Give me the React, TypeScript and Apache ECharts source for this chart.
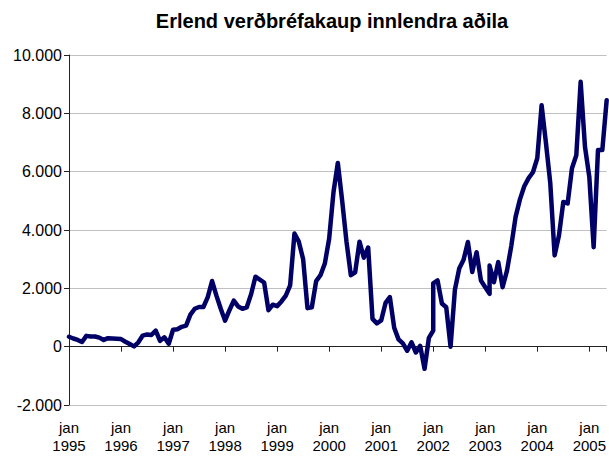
import React, { useEffect, useRef } from 'react';
import * as echarts from 'echarts';

const chartTitle = 'Erlend verðbréfakaup innlendra aðila';
const firstYear = 1995;

// Monthly values, January to December of each year
const y1995 = [340, 280, 230, 160, 370, 350, 350, 310, 230, 290, 280, 270];
const y1996 = [260, 170, 90, 10, 150, 380, 420, 400, 550, 200, 320, 100];
const y1997 = [580, 600, 680, 720, 1100, 1300, 1360, 1360, 1700, 2250, 1750, 1300];
const y1998 = [890, 1250, 1580, 1380, 1300, 1350, 1800, 2400, 2300, 2200, 1250, 1440];
const y1999 = [1390, 1550, 1750, 2100, 3880, 3600, 3000, 1320, 1350, 2250, 2450, 2850];
const y2000 = [3700, 5300, 6300, 5000, 3600, 2450, 2550, 3600, 3050, 3400, 950, 800];
const y2001 = [900, 1500, 1700, 650, 250, 110, -140, 150, -200, 30, -760, 300];
const y2002 = [550, 2270, 1480, 1350, 0, 1950, 2680, 2980, 3590, 2560, 3240, 2270];
const y2003 = [2040, 1810, 2210, 2900, 2040, 2600, 3450, 4450, 5050, 5500, 5780, 5980];
const y2004 = [6460, 8280, 6980, 5600, 3130, 3810, 4960, 4910, 6120, 6560, 9080, 6850];
const y2005 = [5820, 3410, 6740, 6740, 8450];
const yearlyValues = [y1995, y1996, y1997, y1998, y1999, y2000, y2001, y2002, y2003, y2004, y2005];

// Months that carry a second observation (month index from jan 1995, value)
const sameMonthSecondValue: [number, number][] = [
  [84, 2170],
  [97, 2780],
];

const yMin = -2000;
const yMax = 10000;
const yStep = 2000;
const monthLabel = 'jan';

const fmtThousands = (v: number) => {
  const s = Math.abs(v)
    .toString()
    .replace(/\B(?=(\d{3})+(?!\d))/g, '.');
  return (v < 0 ? '-' : '') + s;
};

export default function App() {
  const ref = useRef<HTMLDivElement>(null);
  useEffect(() => {
    if (!ref.current) return;
    const chart = echarts.init(ref.current, undefined, { renderer: 'svg' });
    const points: [number, number][] = [];
    yearlyValues.forEach((arr, yi) => {
      arr.forEach((v, mi) => {
        const idx = yi * 12 + mi;
        points.push([idx, v]);
        const extra = sameMonthSecondValue.find((p) => p[0] === idx);
        if (extra) points.push([idx, extra[1]]);
      });
    });
    const lastIdx = points[points.length - 1][0];
    const font = '"Liberation Sans", Arial, sans-serif';
    chart.setOption({
      animation: false,
      backgroundColor: '#ffffff',
      textStyle: { fontFamily: font },
      graphic: [
        {
          type: 'text',
          x: 332,
          y: 21,
          style: {
            text: chartTitle,
            font: 'bold 20px "Liberation Sans", Arial, sans-serif',
            fill: '#000000',
            align: 'center',
            verticalAlign: 'middle',
            textAlign: 'center',
            textVerticalAlign: 'middle',
          },
        },
      ],
      grid: { left: 69, right: 0, top: 55, bottom: 51, containLabel: false },
      xAxis: [
        {
          type: 'value',
          min: 0,
          max: lastIdx,
          interval: 12,
          position: 'bottom',
          axisLine: { show: true, onZero: true, lineStyle: { color: '#222222', width: 1 } },
          axisTick: { show: true, length: 5, lineStyle: { color: '#222222', width: 1 } },
          axisLabel: { show: false },
          splitLine: { show: false },
        },
        {
          type: 'value',
          min: 0,
          max: lastIdx,
          interval: 12,
          position: 'bottom',
          axisLine: { show: false, onZero: false },
          axisTick: { show: false },
          splitLine: { show: false },
          axisLabel: {
            show: true,
            showMaxLabel: false,
            fontSize: 15,
            lineHeight: 18,
            color: '#000000',
            fontFamily: font,
            margin: 13,
            formatter: (v: number) =>
              v % 12 === 0 ? monthLabel + '\n' + (firstYear + v / 12) : '',
          },
        },
      ],
      yAxis: {
        type: 'value',
        min: yMin,
        max: yMax,
        interval: yStep,
        axisLine: { show: true, onZero: false, lineStyle: { color: '#222222', width: 1 } },
        axisTick: { show: true, length: 5, lineStyle: { color: '#222222', width: 1 } },
        axisLabel: {
          fontSize: 16,
          color: '#000000',
          fontFamily: font,
          margin: 7,
          formatter: (v: number) => fmtThousands(v),
        },
        splitLine: { show: true, lineStyle: { color: '#c0c0c0', width: 1 } },
      },
      series: [
        {
          type: 'line',
          xAxisIndex: 0,
          data: points,
          symbol: 'none',
          lineStyle: { color: '#000066', width: 4.5, join: 'round', cap: 'round' },
        },
      ],
    });
    return () => chart.dispose();
  }, []);
  return (
    <div
      ref={ref}
      style={{ position: 'fixed', left: 0, top: 0, width: 609, height: 456, background: '#fff' }}
    />
  );
}
